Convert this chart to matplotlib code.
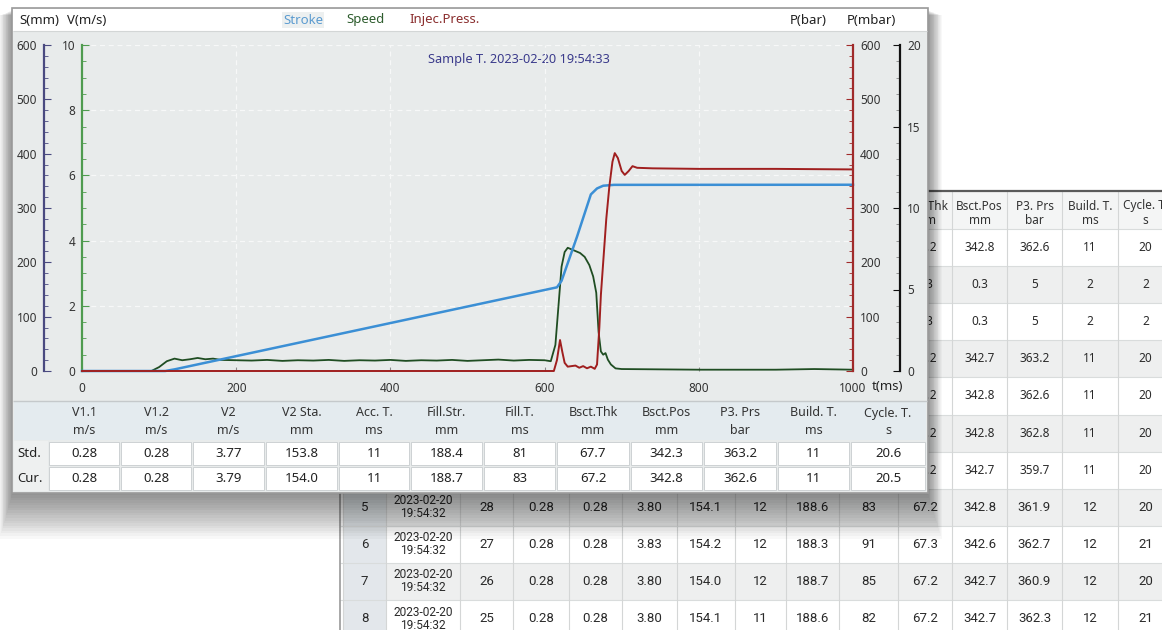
"""Shot curve screen: stroke / speed / injection pressure with parameter tables."""

import matplotlib

matplotlib.use("Agg")
import matplotlib.pyplot as plt
from matplotlib import font_manager
from matplotlib.patches import Rectangle
from matplotlib.ticker import MultipleLocator

W, H = 1162, 630

# ---- curves (t in ms) ----
stroke_t = [0, 108, 120, 616, 622, 642, 660, 668, 676, 690, 1000]
stroke_mm = [0, 0, 3, 154, 166, 247, 325, 336, 341, 342.6, 342.8]

speed_t = [0, 90, 100, 110, 120, 130, 140, 150, 160, 170, 180, 200, 220, 240, 260,
           280, 300, 320, 340, 360, 380, 400, 420, 440, 460, 480, 500, 520, 540,
           560, 580, 600, 608, 614, 618, 622, 626, 630, 634, 640, 646, 652, 658,
           663, 667, 670, 673, 676, 679, 682, 686, 692, 700, 750, 800, 900, 950, 1000]
speed_ms = [0, 0, 0.12, 0.3, 0.38, 0.33, 0.36, 0.4, 0.36, 0.38, 0.34, 0.33, 0.32,
            0.34, 0.31, 0.33, 0.32, 0.34, 0.31, 0.33, 0.32, 0.34, 0.31, 0.33, 0.32,
            0.34, 0.31, 0.33, 0.35, 0.32, 0.34, 0.33, 0.3, 0.8, 2.0, 3.2, 3.65, 3.78,
            3.74, 3.68, 3.62, 3.5, 3.25, 2.9, 2.4, 1.2, 0.6, 0.5, 0.55, 0.35, 0.2,
            0.08, 0.06, 0.05, 0.04, 0.04, 0.06, 0.04]

press_t = [0, 612, 616, 620, 623, 626, 630, 640, 645, 650, 655, 660, 665, 668, 671,
           673, 676, 680, 684, 688, 691, 695, 700, 704, 709, 714, 720, 740, 800, 900, 1000]
press_bar = [0, 0, 20, 57, 35, 15, 8, 10, 6, 9, 5, 8, 4, 12, 80, 140, 200, 280, 340,
             385, 401, 392, 368, 361, 368, 377, 374, 373, 372, 372, 371]

TITLE = "Sample T. 2023-02-20 19:54:33"

# ---- parameter table (front window) ----
tab_cols = ["V1.1", "V1.2", "V2", "V2 Sta.", "Acc. T.", "Fill.Str.", "Fill.T.",
            "Bsct.Thk", "Bsct.Pos", "P3. Prs", "Build. T.", "Cycle. T."]
tab_units = ["m/s", "m/s", "m/s", "mm", "ms", "mm", "ms", "mm", "mm", "bar", "ms", "s"]
row_names = ["Std.", "Cur."]
std_vals = ["0.28", "0.28", "3.77", "153.8", "11", "188.4", "81", "67.7", "342.3",
            "363.2", "11", "20.6"]
cur_vals = ["0.28", "0.28", "3.79", "154.0", "11", "188.7", "83", "67.2", "342.8",
            "362.6", "11", "20.5"]

# ---- history table (window behind, only its right and bottom parts show) ----
hist_cols = ["Bsct.Thk", "Bsct.Pos", "P3. Prs", "Build. T.", "Cycle. T."]
hist_units = ["mm", "mm", "bar", "ms", "s"]
hist_upper = [
    ["67.2", "342.8", "362.6", "11", "20"],
    ["0.3", "0.3", "5", "2", "2"],
    ["0.3", "0.3", "5", "2", "2"],
    ["67.2", "342.7", "363.2", "11", "20"],
    ["67.2", "342.8", "362.6", "11", "20"],
    ["67.2", "342.8", "362.8", "11", "20"],
    ["67.2", "342.7", "359.7", "11", "20"],
]
hist_lower = [
    ["5", "2023-02-20\n19:54:32", "28", "0.28", "0.28", "3.80", "154.1", "12", "188.6",
     "83", "67.2", "342.8", "361.9", "12", "20"],
    ["6", "2023-02-20\n19:54:32", "27", "0.28", "0.28", "3.83", "154.2", "12", "188.3",
     "91", "67.3", "342.6", "362.7", "12", "21"],
    ["7", "2023-02-20\n19:54:32", "26", "0.28", "0.28", "3.80", "154.0", "12", "188.7",
     "85", "67.2", "342.7", "360.9", "12", "20"],
    ["8", "2023-02-20\n19:54:32", "25", "0.28", "0.28", "3.80", "154.1", "11", "188.6",
     "82", "67.2", "342.7", "362.3", "12", "21"],
]

# layout (pixels)
HIST_EDGES = [343, 386, 460, 513, 569, 622, 677, 735, 786, 839, 898, 952, 1007,
              1062, 1118, 1173]
HIST_TOP, HIST_ROW0, ROW_H = 191, 229, 37.1
TAB_EDGES = [14, 48, 120, 192, 265, 338, 410, 483, 556, 630, 703, 777, 850, 926]
L, R, T, B = 82, 853, 45, 371


def has_font(name):
    try:
        font_manager.findfont(font_manager.FontProperties(family=name),
                              fallback_to_default=False)
        return True
    except ValueError:
        return False


plt.rcParams["font.family"] = ["Noto Sans", "DejaVu Sans"]
NARROW = "Roboto" if has_font("Roboto") else "Noto Sans"

fig = plt.figure(figsize=(W / 100, H / 100), dpi=100)
fig.patch.set_facecolor("white")
ui = fig.add_axes([0, 0, 1, 1])
ui.set_xlim(0, W)
ui.set_ylim(H, 0)
ui.axis("off")
ui.set_zorder(0)


def box(x0, y0, x1, y1, fc, ec="none", lw=0, z=1, alpha=1):
    ui.add_patch(Rectangle((x0, y0), x1 - x0, y1 - y0, fc=fc, ec=ec, lw=lw,
                           zorder=z, alpha=alpha))


def hline(x0, x1, y, color, lw=0.8, z=1.3):
    ui.plot([x0, x1], [y, y], color=color, lw=lw, zorder=z, solid_capstyle="butt")


def vline(x, y0, y1, color, lw=0.8, z=1.3):
    ui.plot([x, x], [y0, y1], color=color, lw=lw, zorder=z, solid_capstyle="butt")


# ---------- history window (behind) ----------
box(340, HIST_TOP, W, H, "white", z=1)
box(340, HIST_TOP, W, HIST_ROW0, "#f4f5f5", z=1.1)
n_rows = len(hist_upper) + len(hist_lower)
for i in range(n_rows):
    y0 = HIST_ROW0 + i * ROW_H
    box(HIST_EDGES[0], y0, W, y0 + ROW_H, "#eeefef" if i % 2 else "white", z=1.1)
    box(HIST_EDGES[0], y0, HIST_EDGES[1], y0 + ROW_H, "#e3e7eb", z=1.2)
    hline(340, W, y0, "#d9dcdc")
for x in HIST_EDGES:
    vline(x, HIST_TOP, H, "#d4d6d6")
vline(340, HIST_TOP, H, "#9a9a9a", lw=1.2)
hline(340, W, HIST_TOP, "#5a5a5a", lw=1.6)

first_col = len(HIST_EDGES) - 1 - len(hist_cols)
for k, (name, unit) in enumerate(zip(hist_cols, hist_units)):
    j = first_col + k
    xc = (HIST_EDGES[j] + HIST_EDGES[j + 1]) / 2
    ui.text(xc, 206, name, ha="center", va="center", fontsize=8.5, color="#333", zorder=2)
    ui.text(xc, 221, unit, ha="center", va="center", fontsize=8.5, color="#333", zorder=2)

for i, row in enumerate(hist_upper):
    yc = HIST_ROW0 + (i + 0.5) * ROW_H
    for k, val in enumerate(row):
        j = first_col + k
        xc = (HIST_EDGES[j] + HIST_EDGES[j + 1]) / 2
        ui.text(xc, yc, val, ha="center", va="center", fontsize=8.5, color="#2a2a2a", zorder=2)
for i, row in enumerate(hist_lower):
    yc = HIST_ROW0 + (len(hist_upper) + i + 0.5) * ROW_H
    for j, val in enumerate(row):
        xc = (HIST_EDGES[j] + HIST_EDGES[j + 1]) / 2
        ui.text(xc, yc, val, ha="center", va="center", family=NARROW,
                fontsize=8.6 if "\n" in val else 9.5, linespacing=1.0,
                color="#2a2a2a", zorder=2)

# ---------- shadow of the front window ----------
for k in range(18):
    g = k * 1.6
    box(12 - g * 0.45, 10 + g * 0.2, 928 + g * 0.5, 495 + g * 1.6, "black", z=4, alpha=0.026)

# ---------- front window ----------
box(12, 8, 928, 493, "#e8ebeb", ec="#9a9a9a", lw=1.2, z=5)
box(13, 9, 927, 31, "white", z=5.1)
hline(13, 927, 31, "#d3d6d6", z=5.2)

ui.text(19, 20, "S(mm)", ha="left", va="center", fontsize=9.5, color="#222", zorder=6)
ui.text(67, 20, "V(m/s)", ha="left", va="center", fontsize=9.5, color="#222", zorder=6)
ui.text(283, 20, "Stroke", ha="left", va="center", fontsize=9.5, color="#5b9bd0", zorder=6,
        bbox=dict(fc="#edf0f0", ec="none", pad=1))
ui.text(346, 20, "Speed", ha="left", va="center", fontsize=9.5, color="#2d5c2d", zorder=6)
ui.text(409, 20, "Injec.Press.", ha="left", va="center", fontsize=9.5, color="#8a2e2e", zorder=6)
ui.text(790, 20, "P(bar)", ha="left", va="center", fontsize=9.5, color="#222", zorder=6)
ui.text(847, 20, "P(mbar)", ha="left", va="center", fontsize=9.5, color="#222", zorder=6)
ui.text(519, 60, TITLE, ha="center", va="center", fontsize=9.2, color="#3b3b8c", zorder=6)
ui.text(872, 386, "t(ms)", ha="left", va="center", fontsize=9.5, color="#222", zorder=6)

# parameter table
hline(13, 927, 401, "#c5c9cb", lw=1, z=5.2)
box(14, 402, 926, 440, "#e4ebef", z=5.1)
for j, (name, unit) in enumerate(zip(tab_cols, tab_units)):
    xc = (TAB_EDGES[j + 1] + TAB_EDGES[j + 2]) / 2
    ui.text(xc, 413, name, ha="center", va="center", fontsize=9, color="#333", zorder=6)
    ui.text(xc, 431, unit, ha="center", va="center", fontsize=9, color="#333", zorder=6)
for i, (name, vals) in enumerate(zip(row_names, [std_vals, cur_vals])):
    y0, y1 = 441 + i * 25, 466 + i * 25
    box(TAB_EDGES[0], y0, TAB_EDGES[1], y1, "#eef0f0", z=5.1)
    ui.text(17, (y0 + y1) / 2, name, ha="left", va="center", fontsize=9.5, color="#222", zorder=6)
    for j, val in enumerate(vals):
        x0, x1 = TAB_EDGES[j + 1], TAB_EDGES[j + 2]
        box(x0 + 1, y0 + 1, x1 - 1, y1 - 1, "white", ec="#cdd1d3", lw=0.7, z=5.2)
        ui.text((x0 + x1) / 2, (y0 + y1) / 2, val, ha="center", va="center",
                fontsize=9.5, color="#222", zorder=6)

# ---------- chart axes ----------
rect = [L / W, 1 - B / H, (R - L) / W, (B - T) / H]
ax_v = fig.add_axes(rect)
ax_s = ax_v.twinx()
ax_p = ax_v.twinx()
ax_m = ax_v.twinx()
for z, a in enumerate([ax_v, ax_s, ax_p, ax_m]):
    a.set_zorder(10 + z)
    a.patch.set_visible(False)
    for sp in a.spines.values():
        sp.set_visible(False)

label_kw = dict(labelsize=8.5, labelcolor="#333", direction="in")

ax_v.set_xlim(0, 1000)
ax_v.xaxis.set_major_locator(MultipleLocator(200))
ax_v.tick_params(axis="x", length=3, color="#8a8a8a", pad=8, **label_kw)
ax_v.set_ylim(0, 10)
ax_v.yaxis.set_major_locator(MultipleLocator(2))
ax_v.yaxis.set_minor_locator(MultipleLocator(0.5))
ax_v.spines["left"].set_visible(True)
ax_v.spines["left"].set_color("#4f9b4f")
ax_v.spines["left"].set_linewidth(1.6)
ax_v.yaxis.tick_left()
ax_v.tick_params(axis="y", which="major", length=5, color="#4f9b4f", pad=5, **label_kw)
ax_v.tick_params(axis="y", which="minor", length=3, color="#4f9b4f", direction="in")
ax_v.grid(True, which="major", color="#f7f8f8", lw=0.9, ls=(0, (4, 3)))

ax_s.set_ylim(0, 600)
ax_s.yaxis.set_major_locator(MultipleLocator(100))
ax_s.yaxis.set_minor_locator(MultipleLocator(20))
ax_s.yaxis.tick_left()
ax_s.spines["left"].set_visible(True)
ax_s.spines["left"].set_position(("axes", (44 - L) / (R - L)))
ax_s.spines["left"].set_color("#4a4a80")
ax_s.spines["left"].set_linewidth(1.6)
ax_s.tick_params(axis="y", which="major", length=5, color="#4a4a80", pad=5, **label_kw)
ax_s.tick_params(axis="y", which="minor", length=3, color="#4a4a80", direction="in")

ax_p.set_ylim(0, 600)
ax_p.yaxis.set_major_locator(MultipleLocator(100))
ax_p.yaxis.set_minor_locator(MultipleLocator(20))
ax_p.spines["right"].set_visible(True)
ax_p.spines["right"].set_color("#a02a2a")
ax_p.spines["right"].set_linewidth(1.6)
ax_p.tick_params(axis="y", which="major", length=5, color="#a02a2a", pad=5, **label_kw)
ax_p.tick_params(axis="y", which="minor", length=3, color="#a02a2a", direction="in")

ax_m.set_ylim(0, 20)
ax_m.yaxis.set_major_locator(MultipleLocator(5))
ax_m.yaxis.set_minor_locator(MultipleLocator(1))
ax_m.spines["right"].set_visible(True)
ax_m.spines["right"].set_position(("axes", (900 - L) / (R - L)))
ax_m.spines["right"].set_color("#111")
ax_m.spines["right"].set_linewidth(1.6)
ax_m.tick_params(axis="y", which="major", length=5, color="#111", pad=5, **label_kw)
ax_m.tick_params(axis="y", which="minor", length=3, color="#888", direction="in")

ax_v.plot(speed_t, speed_ms, color="#1f4d22", lw=1.3, clip_on=False)
ax_s.plot(stroke_t, stroke_mm, color="#3b8fd5", lw=1.8, clip_on=False)
ax_p.plot(press_t, press_bar, color="#a01f1f", lw=1.4, clip_on=False)

fig.savefig("out.png", dpi=100)
